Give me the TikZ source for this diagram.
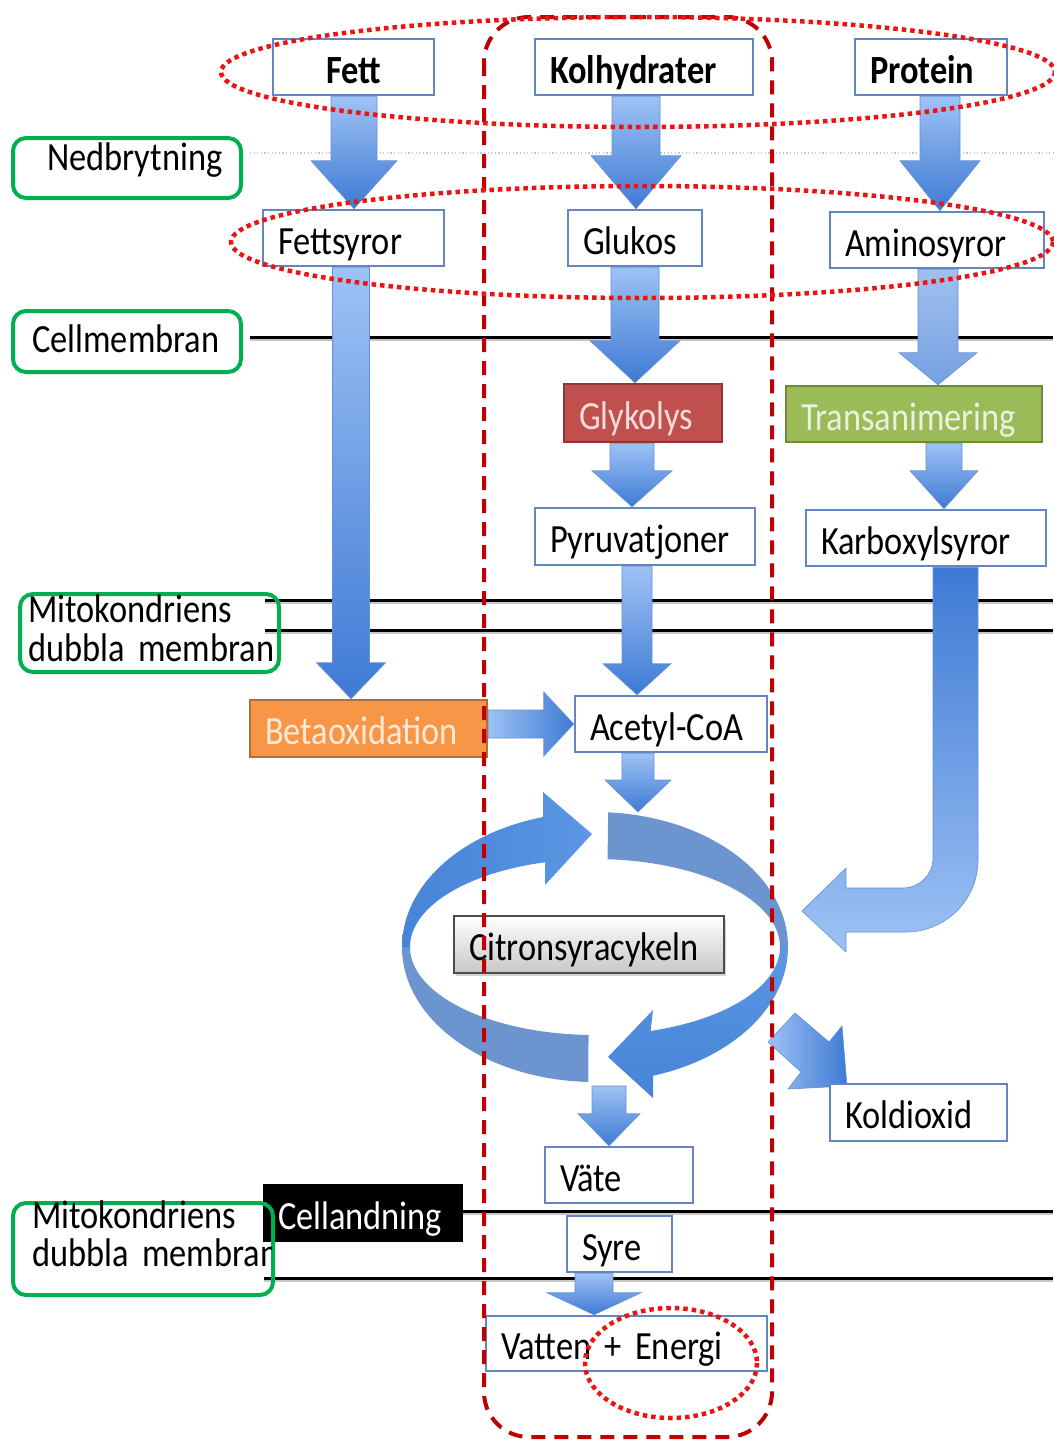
\documentclass[tikz,border=0pt]{standalone}
\usepackage{fontspec}
\setmainfont{Carlito}[FakeStretch=0.86]
\usetikzlibrary{calc,shadows,backgrounds}
\newcommand\bigfnt[1]{\fontsize{40}{#1}\selectfont\fontdimen2\font=6.5pt\relax}
\definecolor{boxblue}{RGB}{99,134,192}
\definecolor{gboxc}{RGB}{0,176,80}
\definecolor{ddred}{RGB}{192,0,0}
\definecolor{dotred}{RGB}{235,20,20}
\definecolor{arrL}{RGB}{158,194,245}
\definecolor{arrD}{RGB}{62,122,212}
\definecolor{arrE}{RGB}{100,145,210}
\definecolor{arrL2}{RGB}{160,192,238}
\definecolor{arrD2}{RGB}{118,160,225}
\definecolor{glykF}{RGB}{192,80,77}
\definecolor{glykB}{RGB}{140,56,54}
\definecolor{glykT}{RGB}{242,220,219}
\definecolor{tranF}{RGB}{155,187,89}
\definecolor{tranB}{RGB}{113,137,63}
\definecolor{tranT}{RGB}{235,241,222}
\definecolor{betaF}{RGB}{247,150,70}
\definecolor{betaB}{RGB}{182,109,49}
\definecolor{betaT}{RGB}{253,233,217}
\definecolor{ringF}{RGB}{70,132,215}
\definecolor{ringF2}{RGB}{92,150,228}
\definecolor{ringB}{RGB}{108,148,206}
% down block arrow: [style] x, start, tip, shaft half, head half, head length
\newcommand\dnarrow[7][]{%
  \path[barrow,#1] let \p0=(#2,0), \p1=(#3), \p2=(#4) in
    (\x0-#5pt,\y1) -- (\x0+#5pt,\y1) -- (\x0+#5pt,\y2+#7pt) -- (\x0+#6pt,\y2+#7pt)
    -- (\x0,\y2) -- (\x0-#6pt,\y2+#7pt) -- (\x0-#5pt,\y2+#7pt) -- cycle;}
\begin{document}
\begin{tikzpicture}[x=1pt,y=-1pt,
  every node/.style={font=\bigfnt{44}},
  pb/.style={draw=boxblue, line width=2.5pt, fill=white, inner ysep=0pt, inner xsep=15pt,
    align=left, text height=36pt, text depth=4pt, text=black},
  gbox/.style={draw=gboxc, line width=4pt, rounded corners=13pt, inner sep=0pt},
  gtxt/.style={anchor=base west, inner sep=0pt, align=left},
  barrow/.style={top color=arrL, bottom color=arrD, draw=arrE, line width=0.6pt},
  lightarrow/.style={top color=arrL2, bottom color=arrD2},
  memb/.style={line width=3pt, black},
  membsh/.style={line width=2pt, black!22},
  ddash/.style={draw=ddred, line width=4pt, dash pattern=on 14pt off 9pt},
  rdot/.style={draw=dotred, line width=4.5pt, dash pattern=on 4.5pt off 4pt},
]
\useasboundingbox (0,0) rectangle (1053,1440);

% ---------- boxes ----------
\node[pb, align=center, minimum width=161pt, minimum height=56pt, text width=131pt,
  font=\bigfnt{44}\bfseries] (fett) at (353.5,67) {Fett};
\node[pb, minimum width=218pt, minimum height=56pt, text width=188pt,
  font=\bigfnt{44}\bfseries] (kolh) at (644,67) {Kolhydrater};
\node[pb, minimum width=152pt, minimum height=56pt, text width=122pt,
  font=\bigfnt{44}\bfseries] (prot) at (931,67) {Protein};
\node[pb, minimum width=181pt, minimum height=56pt, text width=151pt] (fsyr) at (353.5,238) {Fettsyror};
\node[pb, minimum width=134pt, minimum height=56pt, text width=104pt] (gluk) at (635,238) {Glukos};
\node[pb, minimum width=214pt, minimum height=56pt, text width=184pt] (amin) at (937,240) {Aminosyror};
\node[pb, draw=glykB, fill=glykF, text=glykT, minimum width=158pt, minimum height=58pt, text width=128pt] (glyk) at (643,413) {Glykolys};
\node[pb, draw=tranB, fill=tranF, text=tranT, minimum width=256pt, minimum height=56pt, text width=226pt] (tran) at (914,414) {Transanimering};
\node[pb, minimum width=220pt, minimum height=57pt, text width=190pt] (pyru) at (645,536.5) {Pyruvatjoner};
\node[pb, minimum width=240pt, minimum height=56pt, text width=210pt] (karb) at (926,538) {Karboxylsyror};
\node[pb, draw=betaB, fill=betaF, text=betaT, minimum width=237pt, minimum height=57pt, text width=207pt] (beta) at (368.5,728.5) {Betaoxidation};
\node[pb, minimum width=192pt, minimum height=56pt, text width=162pt] (acet) at (671,724) {Acetyl-CoA};
\node[pb, fill=none, draw=black!70, line width=1.5pt, top color=white, bottom color=black!22,
  drop shadow={shadow xshift=2pt, shadow yshift=-3pt, fill=black!35},
  minimum width=270pt, minimum height=57pt, text width=240pt] (citr) at (589,944.5) {Citronsyracykeln};
\node[pb, minimum width=177pt, minimum height=57pt, text width=147pt] (kold) at (918.5,1112.5) {Koldioxid};
\node[pb, minimum width=148pt, minimum height=56pt, text width=118pt] (vate) at (619,1175) {Väte};
\node[pb, minimum width=105pt, minimum height=56pt, text width=75pt] (syre) at (619.5,1244) {Syre};
\node[pb, minimum width=281pt, minimum height=55pt, text width=251pt] (vatt) at (626.5,1343.5) {Vatten + Energi};
\node[pb, draw=none, fill=black, text=white, minimum width=200pt, minimum height=58pt, text width=170pt] (cell) at (363,1213) {Cellandning};

\coordinate (cyctop) at (638,812);
\coordinate (cycout) at (609,1086);

% ---------- background: lines, arrows, cycle ----------
\begin{pgfonlayer}{background}
\fill[white] (0,0) rectangle (1053,1440);
\draw[gray!45, line width=1.2pt, dash pattern=on 1.2pt off 2.4pt] (250,153) -- (1053,153);
\foreach \yy/\xs in {337/250, 600/265, 630/265, 1211/263, 1278/264} {
  \draw[membsh] (\xs,\yy+3) -- (1053,\yy+3);
  \draw[memb] (\xs,\yy) -- (1053,\yy);
}
% straight block arrows
\dnarrow{354}{fett.south}{fsyr.north}{23}{43}{48}
\dnarrow{636}{kolh.south}{gluk.north}{24}{45}{53}
\dnarrow{940}{prot.south}{amin.north}{20}{40}{50}
\dnarrow{351}{fsyr.south}{beta.north}{18.5}{34.5}{36}
\dnarrow{635}{gluk.south}{glyk.north}{24}{45}{42}
\dnarrow[lightarrow]{938}{amin.south}{tran.north}{20}{39}{32}
\dnarrow{632}{glyk.south}{pyru.north}{22}{40}{36}
\dnarrow{944}{tran.south}{karb.north}{18}{34}{38}
\dnarrow{637}{pyru.south}{acet.north}{15}{34}{31}
\dnarrow{638}{acet.south}{cyctop}{16}{33}{32}
\dnarrow{609}{cycout}{vate.north}{17}{31}{32}
\dnarrow{594}{syre.south}{vatt.north}{19}{47}{22}
% Betaoxidation -> Acetyl-CoA
\path[barrow, left color=arrL, right color=arrD] let \p1=(beta.east), \p2=(acet.west), \p3=(0,724) in
  (\x1,\y3+14pt) -- (\x2-30pt,\y3+14pt) -- (\x2-30pt,\y3+32pt) -- (\x2,\y3)
  -- (\x2-30pt,\y3-32pt) -- (\x2-30pt,\y3-14pt) -- (\x1,\y3-14pt) -- cycle;
% Karboxylsyror -> cycle (J arrow)
\path[barrow, top color=arrD, bottom color=arrL] let \p1=(karb.south) in
  (933pt,\y1) -- (978pt,\y1) -- (978,860) arc[start angle=0, end angle=90, radius=72]
  -- (846,932) -- (846,952) -- (802,911) -- (846,868) -- (846,888) -- (903,888)
  arc[start angle=90, end angle=0, radius=30] -- cycle;
% cycle -> Koldioxid
\path[barrow, left color=arrL, right color=arrD]
  (795,1013) -- (829,1042) -- (842,1026) -- (847,1086) -- (788,1089) -- (801,1072) -- (768,1042) -- cycle;
% citric acid cycle ring
\begin{scope}[shift={(595,947)}]
  \fill[ringB] (92:193 and 135) arc[start angle=92, end angle=180, x radius=193, y radius=135]
    -- (180:185 and 88) arc[start angle=180, end angle=92, x radius=185, y radius=88] -- cycle;
  \fill[ringB] (273.9:193 and 135) arc[start angle=273.9, end angle=360, x radius=193, y radius=135]
    -- (0:185 and 88) arc[start angle=360, end angle=273.9, x radius=185, y radius=88] -- cycle;
  \path[left color=ringF, right color=ringF2] (180:193 and 135)
    arc[start angle=180, end angle=254.4, x radius=193, y radius=135]
    -- (-52,-155) -- (-3,-113) -- (-50,-62) -- (254.4:185 and 88)
    arc[start angle=254.4, end angle=180, x radius=185, y radius=88] -- cycle;
  \path[top color=ringF2, bottom color=ringF] (0:193 and 135)
    arc[start angle=0, end angle=72.5, x radius=193, y radius=135]
    -- (58,151) -- (13,110) -- (58,63) -- (72.5:185 and 88)
    arc[start angle=72.5, end angle=0, x radius=185, y radius=88] -- cycle;
\end{scope}
\end{pgfonlayer}

% ---------- green labels ----------
\node[gbox, minimum width=228pt, minimum height=60pt] (nedb) at (127,168) {};
\node[gtxt] (nedbt) at (47,170) {Nedbrytning};
\node[gbox, minimum width=228pt, minimum height=61pt] (cellm) at (127,341.5) {};
\node[gtxt] (cellmt) at (32,352) {Cellmembran};
\node[gbox, minimum width=259pt, minimum height=78pt] (mito1) at (149.5,633) {};
\node[gtxt, text width=250pt, font=\bigfnt{39}] (mito1t) at (28,622) {Mitokondriens\\dubbla membran};
\node[gbox, minimum width=260pt, minimum height=92pt] (mito2) at (143,1249) {};
\begin{scope}
  \clip (0,1190) rectangle (271,1300);
  \node[gtxt, text width=250pt, font=\bigfnt{38}] (mito2t) at (32,1228) {Mitokondriens\\dubbla membran};
\end{scope}

% ---------- red outlines ----------
\draw[ddash, rounded corners=45pt] (484,17) rectangle (772,1437);
\draw[rdot] (638,72) ellipse [x radius=417, y radius=55];
\draw[rdot] (642,242) ellipse [x radius=411, y radius=56];
\draw[rdot] (671,1363) ellipse [x radius=86, y radius=55];
\end{tikzpicture}
\end{document}
